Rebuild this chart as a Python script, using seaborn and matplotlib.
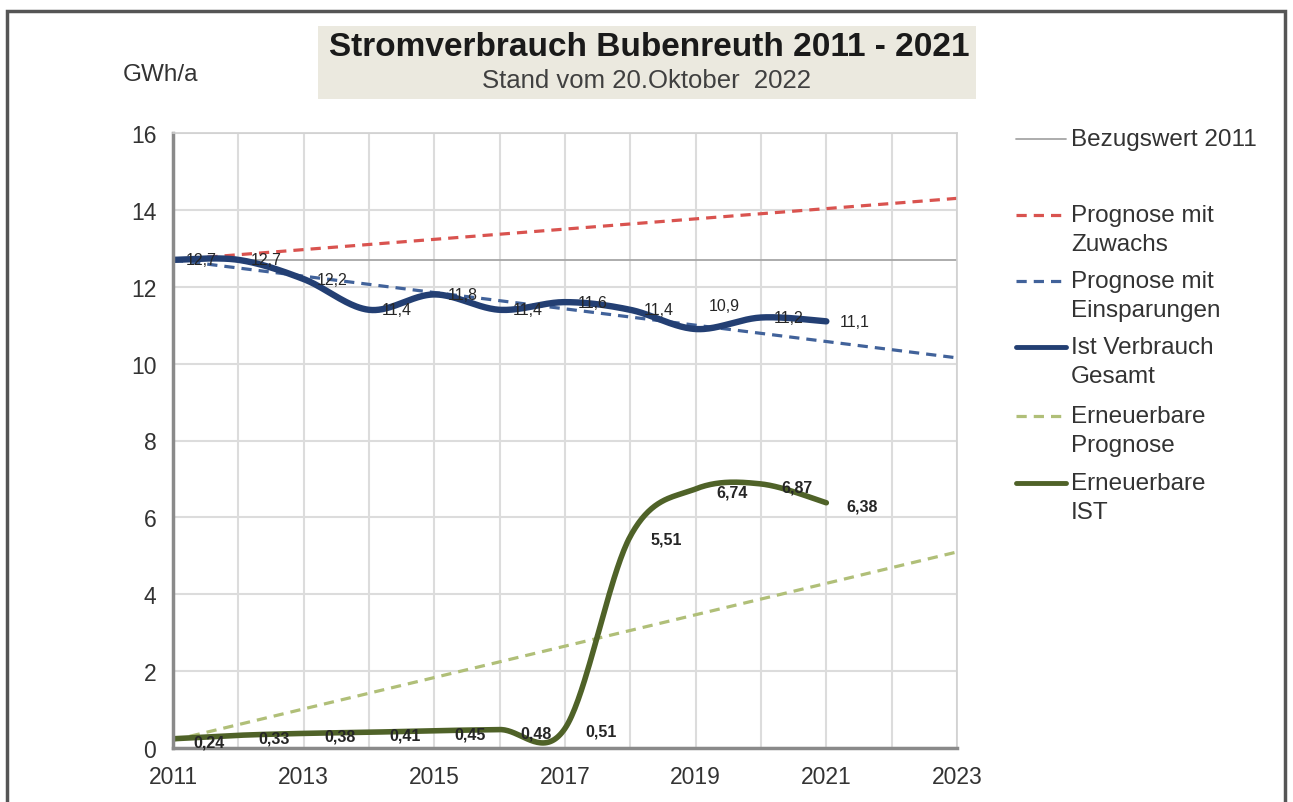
import numpy as np
import matplotlib
matplotlib.use("Agg")
import matplotlib.pyplot as plt
from matplotlib.lines import Line2D
from matplotlib.patches import Rectangle
import seaborn as sns

# data
years = [2011, 2012, 2013, 2014, 2015, 2016, 2017, 2018, 2019, 2020, 2021]
ist_gesamt = [12.7, 12.7, 12.2, 11.4, 11.8, 11.4, 11.6, 11.4, 10.9, 11.2, 11.1]
ist_labels = ["12,7", "12,7", "12,2", "11,4", "11,8", "11,4", "11,6", "11,4", "10,9", "11,2", "11,1"]
erneuerbar_ist = [0.24, 0.33, 0.38, 0.41, 0.45, 0.48, 0.51, 5.51, 6.74, 6.87, 6.38]
erneuerbar_labels = ["0,24", "0,33", "0,38", "0,41", "0,45", "0,48", "0,51", "5,51", "6,74", "6,87", "6,38"]

prognose_years = [2011, 2023]
bezugswert = [12.7, 12.7]
prognose_zuwachs = [12.7, 14.3]
prognose_einsparung = [12.7, 10.15]
erneuerbar_prognose = [0.2, 5.1]

W, H = 1293, 803
def fx(px):
    return px / W
def fy(py):
    return 1 - py / H


def smooth(xs, ys, n=40):
    # Excel-like smoothed line (Catmull-Rom through the data points)
    x = np.r_[xs[0], xs, xs[-1]].astype(float)
    y = np.r_[ys[0], ys, ys[-1]].astype(float)
    t = np.linspace(0, 1, n, endpoint=False)
    h00 = 2 * t**3 - 3 * t**2 + 1
    h10 = t**3 - 2 * t**2 + t
    h01 = -2 * t**3 + 3 * t**2
    h11 = t**3 - t**2
    ox, oy = [], []
    for i in range(1, len(x) - 2):
        mx0, mx1 = (x[i + 1] - x[i - 1]) / 2, (x[i + 2] - x[i]) / 2
        my0, my1 = (y[i + 1] - y[i - 1]) / 2, (y[i + 2] - y[i]) / 2
        ox.append(h00 * x[i] + h10 * mx0 + h01 * x[i + 1] + h11 * mx1)
        oy.append(h00 * y[i] + h10 * my0 + h01 * y[i + 1] + h11 * my1)
    ox.append([x[-2]])
    oy.append([y[-2]])
    return np.concatenate(ox), np.concatenate(oy)


sns.set_style("white")
plt.rcParams["font.family"] = ["Liberation Sans", "DejaVu Sans"]

fig = plt.figure(figsize=(W / 100, H / 100), dpi=100)
ax = fig.add_axes([fx(173), fy(749), fx(957) - fx(173), fy(134) - fy(749)])

# reference line and forecasts
sns.lineplot(x=prognose_years, y=bezugswert, ax=ax, color="#a6a6a6", linewidth=1.3)
sns.lineplot(x=prognose_years, y=prognose_zuwachs, ax=ax, color="#d9534f",
             linewidth=2.3, linestyle="--")
ax.lines[-1].set_dashes((3.2, 2.2))
sns.lineplot(x=prognose_years, y=prognose_einsparung, ax=ax, color="#41629a",
             linewidth=2.3, linestyle="--")
ax.lines[-1].set_dashes((3.2, 2.2))
sns.lineplot(x=prognose_years, y=erneuerbar_prognose, ax=ax, color="#b0bf78",
             linewidth=2.3, linestyle="--")
ax.lines[-1].set_dashes((3.2, 2.2))

# actual values
sx, sy = smooth(years, ist_gesamt)
sns.lineplot(x=sx, y=sy, ax=ax, color="#233f73", linewidth=4.6, sort=False,
             estimator=None)
sx, sy = smooth(years, erneuerbar_ist)
sns.lineplot(x=sx, y=sy, ax=ax, color="#4f6228", linewidth=4.0, sort=False,
             estimator=None)

ist_nudge = {2019: 0.6}
for yr, v, lab in zip(years, ist_gesamt, ist_labels):
    ax.text(yr + 0.43, v + ist_nudge.get(yr, 0), lab, ha="center", va="center",
            fontsize=11.5, color="#262626")
for yr, v, lab in zip(years, erneuerbar_ist, erneuerbar_labels):
    ax.text(yr + 0.55, v - 0.08, lab, ha="center", va="center",
            fontsize=11.5, color="#262626", fontweight="bold")

ax.set_xlim(2011, 2023)
ax.set_ylim(0, 16)
ax.set_xticks(range(2011, 2024, 2))
ax.set_xticks(range(2011, 2024), minor=True)
ax.set_yticks(range(0, 17, 2))
ax.grid(True, which="both", color="#dcdcdc", linewidth=1.5)
ax.set_axisbelow(True)
ax.tick_params(axis="both", which="both", length=0, labelsize=16.5, colors="#333333")
ax.tick_params(axis="x", pad=12)
ax.tick_params(axis="y", pad=12)
ax.set_xlabel("")
ax.set_ylabel("")
for side in ["left", "bottom"]:
    ax.spines[side].set_color("#8a8a8a")
    ax.spines[side].set_linewidth(2.5)
for side in ["top", "right"]:
    ax.spines[side].set_color("#d0d0d0")
    ax.spines[side].set_linewidth(1.2)

# outer frame
fig.add_artist(Rectangle((fx(7), fy(815)), fx(1285) - fx(7), fy(12) - fy(815),
                         transform=fig.transFigure, fill=False,
                         edgecolor="#555555", linewidth=2.5))

# title box
fig.add_artist(Rectangle((fx(318), fy(100)), fx(976) - fx(318), fy(27) - fy(100),
                         transform=fig.transFigure, facecolor="#ebe9df",
                         edgecolor="none"))
fig.text(fx(649), fy(47), "Stromverbrauch Bubenreuth 2011 - 2021", ha="center",
         va="center", fontsize=24, fontweight="bold", color="#1a1a1a")
fig.text(fx(647), fy(81), "Stand vom 20.Oktober  2022", ha="center", va="center",
         fontsize=18.5, color="#404040")
fig.text(fx(161), fy(75), "GWh/a", ha="center", va="center", fontsize=17.5,
         color="#333333")

# legend drawn at the right, handle next to first text line
legend_items = [
    (140, ["Bezugswert 2011"], "#a6a6a6", 1.3, None),
    (216, ["Prognose mit", "Zuwachs"], "#d9534f", 2.3, (3.2, 2.2)),
    (282, ["Prognose mit", "Einsparungen"], "#41629a", 2.3, (3.2, 2.2)),
    (348, ["Ist Verbrauch", "Gesamt"], "#233f73", 3.5, None),
    (417, ["Erneuerbare", "Prognose"], "#b0bf78", 2.3, (3.2, 2.2)),
    (484, ["Erneuerbare", "IST"], "#4f6228", 3.5, None),
]
for ypx, lines, col, lw, dash in legend_items:
    handle = Line2D([fx(1016), fx(1066)], [fy(ypx), fy(ypx)], color=col,
                    linewidth=lw, transform=fig.transFigure)
    if dash:
        handle.set_dashes(dash)
    fig.add_artist(handle)
    for k, line in enumerate(lines):
        fig.text(fx(1071), fy(ypx + 29 * k), line, ha="left", va="center",
                 fontsize=17.5, color="#333333")

fig.savefig("out.png", dpi=100)
